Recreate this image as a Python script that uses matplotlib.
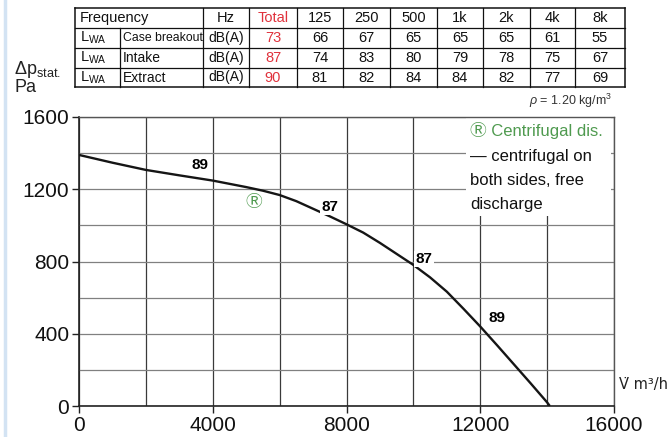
import matplotlib
matplotlib.use("Agg")
import matplotlib.pyplot as plt
from matplotlib.lines import Line2D
from matplotlib.ticker import MultipleLocator

# ---------------- data ----------------
flow = [0, 1000, 2000, 3000, 4000, 5000, 5500, 6000, 6500, 7000, 7500, 8000,
        8500, 9000, 9500, 10000, 10500, 11000, 11500, 12000, 12500, 13000,
        13500, 14000, 14080]
pressure = [1390, 1347, 1307, 1277, 1248, 1212, 1192, 1168, 1134, 1092, 1050, 1006,
            960, 903, 842, 781, 712, 633, 538, 440, 337, 232,
            127, 20, 0]

point_labels = ["89", "87", "87", "89"]
point_x = [3620, 7500, 10320, 12500]
point_y = [1334, 1102, 814, 487]

freq_bands = ["125", "250", "500", "1k", "2k", "4k", "8k"]
row_names = ["Case breakout", "Intake", "Extract"]
row_totals = [73, 87, 90]
case_breakout = [66, 67, 65, 65, 65, 61, 55]
intake = [74, 83, 80, 79, 78, 75, 67]
extract = [81, 82, 84, 84, 82, 77, 69]

x_ticks = [0, 4000, 8000, 12000, 16000]
y_ticks = [0, 400, 800, 1200, 1600]

legend_title = "\u24c7 Centrifugal dis."
legend_lines = ["\u2014 centrifugal on", "both sides, free", "discharge"]

# ---------------- style ----------------
REG = ["Liberation Sans", "Noto Sans CJK JP", "DejaVu Sans"]
SYM = ["Noto Sans CJK JP", "DejaVu Sans"]
plt.rcParams["font.family"] = REG
plt.rcParams["mathtext.fontset"] = "custom"
plt.rcParams["mathtext.rm"] = "Liberation Sans"
plt.rcParams["mathtext.it"] = "Liberation Sans:italic"
plt.rcParams["mathtext.bf"] = "Liberation Sans:bold"

W, H = 670, 437
fig = plt.figure(figsize=(W / 100, H / 100), dpi=100)
fig.patch.set_facecolor("white")

def fx(px):
    return px / W

def fy(py):
    return 1 - py / H

ax = fig.add_axes([fx(79), fy(406), fx(614) - fx(79), fy(117) - fy(406)])
ax.plot(flow, pressure, color="#151515", lw=1.7, zorder=3, solid_capstyle="butt",
        solid_joinstyle="round")
ax.set_xlim(0, 16000)
ax.set_ylim(0, 1600)
ax.xaxis.set_minor_locator(MultipleLocator(2000))
ax.yaxis.set_minor_locator(MultipleLocator(200))
ax.set_xticks(x_ticks)
ax.set_yticks(y_ticks)
ax.set_xticklabels([str(v) for v in x_ticks])
ax.set_yticklabels([str(v) for v in y_ticks])
ax.tick_params(axis="both", which="major", direction="out", length=5, width=1,
               labelsize=15, pad=2, color="#222222", labelcolor="#111111")
ax.tick_params(axis="both", which="minor", length=0)
ax.grid(True, which="both", axis="x", color="#3a3a3a", lw=0.9, zorder=1)
ax.grid(True, which="both", axis="y", color="#808080", lw=0.9, zorder=1)
for s in ["left", "bottom"]:
    ax.spines[s].set_color("#222222")
    ax.spines[s].set_linewidth(1.2)
for s in ["top", "right"]:
    ax.spines[s].set_color("#555555")
    ax.spines[s].set_linewidth(1.0)

for lab, px_, py_ in zip(point_labels, point_x, point_y):
    ax.text(px_, py_, lab, fontsize=11, fontweight="bold", family=REG,
            ha="center", va="center", zorder=5,
            bbox=dict(boxstyle="square,pad=0.08", fc="white", ec="none"))

ax.text(5230, 1124, "\u24c7", fontsize=12, color="#4f9a4f", family=SYM,
        ha="center", va="center", zorder=4)

# legend box
ax.add_patch(plt.Rectangle((11580, 1050), 4320, 548, fc="white", ec="none", zorder=2))
ax.text(11690, 1523, legend_title, fontsize=12, color="#4f9a4f",
        family=REG, ha="left", va="center", zorder=4)
for txt, yy in zip(legend_lines, [1379, 1246, 1118]):
    ax.text(11690, yy, txt, fontsize=12, color="#111111", family=REG,
            ha="left", va="center", zorder=4)

# axis labels
fig.text(fx(14), fy(70), r"$\Delta$p$_{\mathrm{stat.}}$", fontsize=13,
         ha="left", va="center", color="#222222")
fig.text(fx(14), fy(88), "Pa", fontsize=13, family=REG, ha="left", va="center",
         color="#222222")
fig.text(fx(619), fy(385), "V\u0307 m\u00b3/h", fontsize=10.5, family=["DejaVu Sans"],
         ha="left", va="center", color="#222222")
fig.text(fx(612), fy(101), r"$\rho$ = 1.20 kg/m$^3$", fontsize=9,
         ha="right", va="center", color="#333333")

# left light-blue stripe
fig.add_artist(Line2D([fx(5), fx(5)], [0, 1], transform=fig.transFigure,
                      color="#d3e3f3", lw=2.5))

# ---------------- table ----------------
col_x = [75, 120, 203, 249, 297, 343, 390, 437, 483, 530, 575, 625]
row_y = [8, 28, 48, 68, 87]
TC = "#111111"
RED = "#e0323c"

def hline(y, x0, x1, lw=0.9):
    fig.add_artist(Line2D([fx(x0), fx(x1)], [fy(y), fy(y)], transform=fig.transFigure,
                          color=TC, lw=lw))

def vline(x, y0, y1, lw=0.9):
    fig.add_artist(Line2D([fx(x), fx(x)], [fy(y0), fy(y1)], transform=fig.transFigure,
                          color=TC, lw=lw))

for i, y in enumerate(row_y):
    hline(y, col_x[0], col_x[-1], lw=1.1 if i in (0, len(row_y) - 1) else 0.9)
for j, x in enumerate(col_x):
    if j == 1:
        vline(x, row_y[1], row_y[-1])
    else:
        vline(x, row_y[0], row_y[-1], lw=1.1 if j in (0, len(col_x) - 1) else 0.9)

TFS = 10.5
NFS = [8.8, 10, 10]

def cell_center(j):
    return fx((col_x[j] + col_x[j + 1]) / 2)

def row_mid(i):
    return fy((row_y[i] + row_y[i + 1]) / 2)

fig.text(fx(col_x[0] + 5), row_mid(0), "Frequency", fontsize=TFS,
         ha="left", va="center", color=TC)
fig.text(cell_center(2), row_mid(0), "Hz", fontsize=TFS,
         ha="center", va="center", color=TC)
fig.text(cell_center(3), row_mid(0), "Total", fontsize=TFS,
         ha="center", va="center", color=RED)
for k, b in enumerate(freq_bands):
    fig.text(cell_center(4 + k), row_mid(0), b, fontsize=TFS,
             ha="center", va="center", color=TC)

band_rows = [case_breakout, intake, extract]
for i, (name, tot, vals) in enumerate(zip(row_names, row_totals, band_rows)):
    r = i + 1
    fig.text(fx(col_x[0] + 5), row_mid(r), r"L$_{\mathrm{WA}}$", fontsize=TFS,
             ha="left", va="center", color=TC)
    fig.text(fx(col_x[1] + 3), row_mid(r), name, fontsize=NFS[i],
             ha="left", va="center", color=TC)
    fig.text(cell_center(2), row_mid(r), "dB(A)", fontsize=TFS - 0.5,
             ha="center", va="center", color=TC)
    fig.text(cell_center(3), row_mid(r), str(tot), fontsize=TFS,
             ha="center", va="center", color=RED)
    for k, v in enumerate(vals):
        fig.text(cell_center(4 + k), row_mid(r), str(v), fontsize=TFS,
                 ha="center", va="center", color=TC)

fig.savefig("out.png", dpi=100, facecolor="white")
